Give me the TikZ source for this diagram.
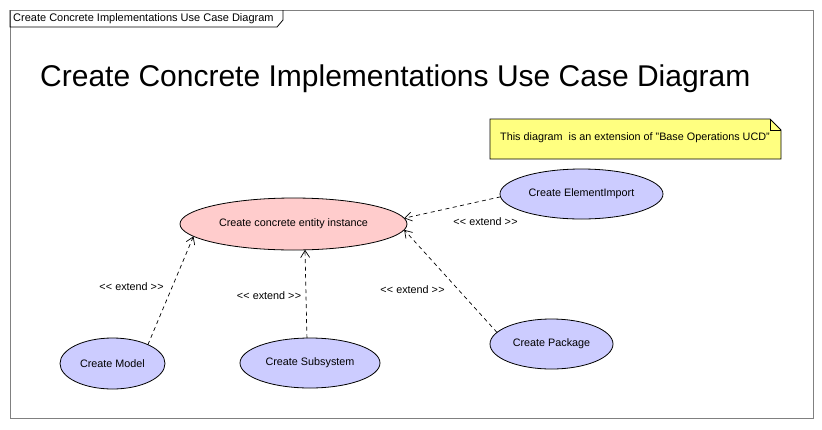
\documentclass[tikz,border=0pt]{standalone}
\usepackage{fontspec}
\setmainfont{Liberation Sans}
\usetikzlibrary{shapes.geometric,arrows.meta}
\definecolor{ucpink}{HTML}{FFCCCC}
\definecolor{ucblue}{HTML}{CCCCFF}
\definecolor{noteyellow}{HTML}{FFFF80}
\definecolor{framegray}{HTML}{808080}
\newcommand{\extendtext}{\textless\kern0.4pt\textless\ extend \textgreater\kern0.4pt\textgreater}
\tikzset{
  usecase/.style={ellipse, draw=black, line width=0.8pt, inner sep=0pt, outer sep=0pt,
    font=\fontsize{10.8}{12}\selectfont},
  extendline/.style={draw=black, line width=0.7pt, dash pattern=on 4pt off 3.5pt,
    -{Straight Barb[length=7pt,width=9pt,line width=0.7pt]}},
  extlabel/.style={font=\fontsize{10.8}{12}\selectfont, inner sep=0pt},
}
\begin{document}
\begin{tikzpicture}[x=1pt,y=-1pt]
\useasboundingbox (0,0) rectangle (822,429);
% frame
\draw[framegray, line width=0.8pt] (10,10) rectangle (813,418);
\draw[black, line width=0.8pt] (10,10) -- (10,27) -- (277,27) -- (283,20) -- (283,10);
\node[anchor=west, inner sep=0pt, font=\fontsize{11}{13}\selectfont] (tab) at (13,19) {Create Concrete Implementations Use Case Diagram};
% title
\node[anchor=base west, inner sep=0pt, font=\fontsize{30}{35}\selectfont] (title) at (40,86) {Create Concrete Implementations Use Case Diagram};
% note
\draw[fill=noteyellow, line width=0.8pt] (490,119) -- (770,119) -- (781,130) -- (781,159) -- (490,159) -- cycle;
\draw[line width=0.7pt] (770,119) -- (770,130) -- (781,130);
\node[inner sep=0pt, font=\fontsize{10.8}{12}\selectfont] (note) at (635,137.5) {This diagram\ \ is an extension of "Base Operations UCD"};
% use cases
\node[usecase, fill=ucpink, minimum width=227pt, minimum height=52pt] (central) at (293.5,224) {Create concrete entity instance};
\node[usecase, fill=ucblue, minimum width=163pt, minimum height=50pt] (import) at (581.5,194) {Create ElementImport};
\node[usecase, fill=ucblue, minimum width=105pt, minimum height=51pt] (model) at (112.5,363.5) {Create Model};
\node[usecase, fill=ucblue, minimum width=140pt, minimum height=50pt] (subsystem) at (310,363) {Create Subsystem};
\node[usecase, fill=ucblue, minimum width=123pt, minimum height=50pt] (package) at (551.5,344) {Create Package};
% extends
\draw[extendline] (import.182) -- (central.3);
\draw[extendline] (package.168) -- (central.357);
\draw[extendline] (subsystem.97) -- (central.294);
\draw[extendline] (model.28) -- (central.187);
% labels
\node[extlabel] (limport) at (485.5,222) {\extendtext};
\node[extlabel] (lpackage) at (412.5,290) {\extendtext};
\node[extlabel] (lsubsystem) at (269,296) {\extendtext};
\node[extlabel] (lmodel) at (131.5,287) {\extendtext};
\end{tikzpicture}
\end{document}
